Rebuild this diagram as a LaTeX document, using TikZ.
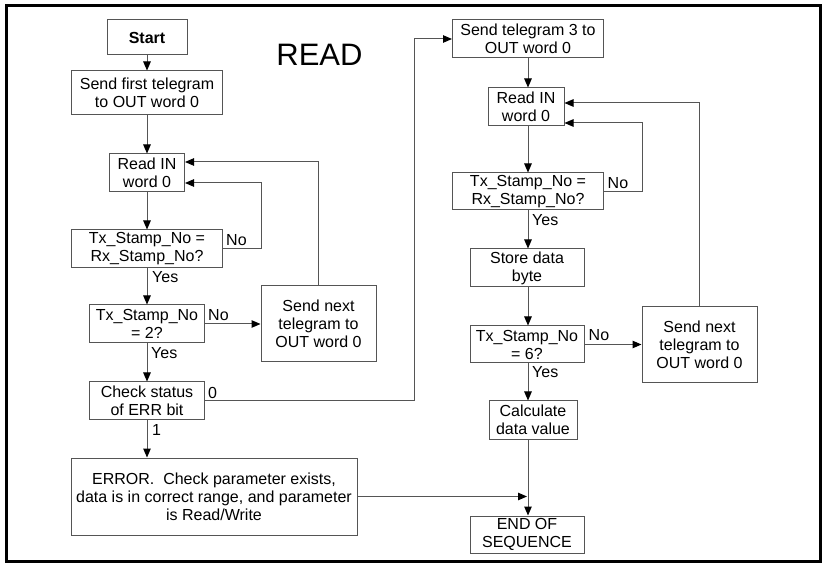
\documentclass[tikz,border=0pt]{standalone}
\usepackage{fontspec}
\setmainfont{Liberation Sans}
\usetikzlibrary{arrows.meta,calc}
\definecolor{linegray}{RGB}{85,85,85}
\tikzset{
  box/.style={draw=linegray, line width=1pt, align=center, inner sep=0pt,
    font=\fontsize{16}{18}\selectfont, text=black},
  arr/.style={draw=linegray, line width=1pt, -{Triangle[length=9pt,width=7.5pt,fill=black,color=black]}},
  ln/.style={draw=linegray, line width=1pt},
  lbl/.style={inner sep=0pt, font=\fontsize{16}{18}\selectfont, text=black},
  nolbl/.style={lbl, anchor=base west},
  yeslbl/.style={lbl, anchor=north west}
}
\begin{document}
\begin{tikzpicture}[x=1pt,y=-1pt]
\useasboundingbox (0,0) rectangle (823,564);
\fill[white] (0,0) rectangle (823,564);
\draw[line width=3.5pt] (6.5,5.5) rectangle (820.5,561.5);

\node[font=\fontsize{31}{34}\selectfont] (title) at (319.5,55) {READ};

% left column
\node[box, minimum width=80pt, minimum height=35pt, font=\fontsize{16}{18}\selectfont\bfseries] (start) at (147,37.5) {Start};
\node[box, minimum width=151pt, minimum height=44pt] (send1) at (147,93) {Send first telegram\\to OUT word 0};
\node[box, minimum width=75pt, minimum height=38pt] (read1) at (147,173) {Read IN\\word 0};
\node[box, minimum width=151pt, minimum height=38pt] (tx1) at (147,249) {Tx\_Stamp\_No =\\Rx\_Stamp\_No?};
\node[box, minimum width=115pt, minimum height=38pt] (tx2) at (147,324) {Tx\_Stamp\_No\\= 2?};
\node[box, minimum width=115pt, minimum height=38pt] (chk) at (147,401) {Check status\\of ERR bit};
\node[box, minimum width=286pt, minimum height=77pt] (err) at (214,496.5) {ERROR.\ \ Check parameter exists,\\data is in correct range, and parameter\\is Read/Write};
\node[box, minimum width=115pt, minimum height=76pt] (next1) at (318.5,324) {Send next\\telegram to\\OUT word 0};

% right column
\node[box, minimum width=151pt, minimum height=38pt] (send3) at (528,39) {Send telegram 3 to\\OUT word 0};
\node[box, minimum width=76pt, minimum height=38pt] (read2) at (526,107) {Read IN\\word 0};
\node[box, minimum width=151pt, minimum height=37pt] (tx3) at (528,191.5) {Tx\_Stamp\_No =\\Rx\_Stamp\_No?};
\node[box, minimum width=114pt, minimum height=38pt] (store) at (527,268) {Store data\\byte};
\node[box, minimum width=114pt, minimum height=37pt] (tx4) at (527,344.5) {Tx\_Stamp\_No\\= 6?};
\node[box, minimum width=115pt, minimum height=76pt] (next2) at (699.5,344.5) {Send next\\telegram to\\OUT word 0};
\node[box, minimum width=88pt, minimum height=38pt] (calc) at (533,420) {Calculate\\data value};
\node[box, minimum width=114pt, minimum height=37pt] (end) at (527,534.5) {END OF\\SEQUENCE};

% left connectors
\draw[arr] (start.south) -- (start.south |- send1.north);
\draw[arr] (send1.south) -- (send1.south |- read1.north);
\draw[arr] (read1.south) -- (read1.south |- tx1.north);
\draw[arr] (tx1.south) -- (tx1.south |- tx2.north);
\draw[arr] (tx2.south) -- (tx2.south |- chk.north);
\draw[arr] (chk.south) -- (chk.south |- err.north);
\draw[arr] (tx1.east) -- ++(38.5,0) |- ([yshift=-10pt]read1.east);
\draw[arr] (next1.north) |- ([yshift=11pt]read1.east);
\draw[arr] (tx2.east) -- (next1.west);
\coordinate (j1) at (414,401);
\draw[arr] (chk.east) -- (j1) |- (send3.west);
\draw[arr] (err.east) -- (err.east -| end.north);

% right connectors
\draw[arr] (send3.south) -- (send3.south |- read2.north);
\draw[arr] (send3.south |- read2.south) -- (send3.south |- tx3.north);
\draw[arr] (tx3.south) -- (tx3.south |- store.north);
\draw[arr] (tx3.south |- store.south) -- (tx3.south |- tx4.north);
\draw[arr] (tx3.south |- tx4.south) -- (tx3.south |- calc.north);
\draw[arr] (tx3.south |- calc.south) -- (tx3.south |- end.north);
\draw[arr] (tx3.east) -- ++(38.5,0) |- ([yshift=-16pt]read2.east);
\draw[arr] (next2.north) |- ([yshift=4pt]read2.east);
\draw[arr] (tx4.east) -- (next2.west);

% labels
\node[nolbl] (n1) at ([xshift=3pt,yshift=3.5pt]tx1.east) {No};
\node[yeslbl] (y1) at ([xshift=5pt,yshift=-3pt]tx1.south) {Yes};
\node[nolbl] (n2) at ([xshift=3pt,yshift=3pt]tx2.east) {No};
\node[yeslbl] (y2) at ([xshift=4pt,yshift=-4pt]tx2.south) {Yes};
\node[nolbl] (z0) at ([xshift=3pt,yshift=2.5pt]chk.east) {0};
\node[yeslbl] (o1) at ([xshift=5pt,yshift=-4pt]chk.south) {1};
\node[nolbl] (n3) at ([xshift=3.5pt,yshift=2.5pt]tx3.east) {No};
\node[yeslbl] (y3) at ([xshift=4pt,yshift=-4pt]tx3.south) {Yes};
\node[nolbl] (n4) at ([xshift=4pt,yshift=3.5pt]tx4.east) {No};
\node[yeslbl] (y4) at ([xshift=5pt,yshift=-3pt]tx4.south) {Yes};
\end{tikzpicture}
\end{document}
